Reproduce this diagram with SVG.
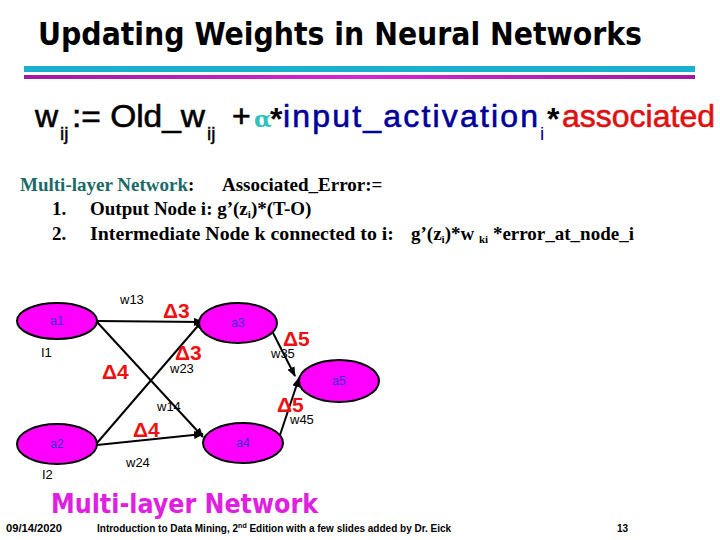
<svg xmlns="http://www.w3.org/2000/svg" width="720" height="540" viewBox="0 0 720 540">
<defs>
<style>
.title{font-family:"DejaVu Sans Condensed","DejaVu Sans",sans-serif;font-weight:bold;}
.ar{font-family:"Liberation Sans",Arial,sans-serif;font-size:32px;}
.sb{font-family:"Liberation Sans",Arial,sans-serif;font-size:19px;}
.tm{font-family:"Liberation Serif","Times New Roman",serif;font-weight:bold;font-size:19px;}
.node ellipse{fill:#ff00ff;stroke:#000;stroke-width:2;}
.node text{font-family:"Liberation Sans",Arial,sans-serif;font-size:12px;fill:#3333cc;text-anchor:middle;}
.lbl{font-family:"Liberation Sans",Arial,sans-serif;font-size:13px;fill:#000;}
.dl{font-family:"Liberation Sans",Arial,sans-serif;font-size:21px;font-weight:bold;fill:#ee1111;}
.edge{stroke:#000;stroke-width:2;fill:none;marker-end:url(#ah);}
.foot{font-family:"Liberation Sans",Arial,sans-serif;font-weight:bold;font-size:10px;fill:#000;}
</style>
<marker id="ah" markerWidth="10" markerHeight="8" refX="9" refY="4" orient="auto" markerUnits="userSpaceOnUse">
<path d="M0,0 L10,4 L0,8 z" fill="#000"/>
</marker>
<linearGradient id="mg" x1="0" x2="1" y1="0" y2="0">
<stop offset="0" stop-color="#a01aa0"/>
<stop offset="0.5" stop-color="#d626d6"/>
<stop offset="1" stop-color="#a01aa0"/>
</linearGradient>
</defs>
<rect width="720" height="540" fill="#fff"/>

<text class="title" x="38" y="45" font-size="32" textLength="604" lengthAdjust="spacingAndGlyphs">Updating Weights in Neural Networks</text>
<rect x="24" y="66" width="671" height="6" fill="#1ab0cf"/>
<rect x="24" y="75" width="671" height="4" fill="url(#mg)"/>

<g id="formula">
<text class="ar" x="35" y="127" stroke="#000" stroke-width="0.6">w</text>
<text class="sb" x="60" y="140" stroke="#000" stroke-width="0.4">ij</text>
<text class="ar" x="72" y="127" textLength="133" lengthAdjust="spacingAndGlyphs" stroke="#000" stroke-width="0.6">:= Old_w</text>
<text class="sb" x="207" y="140" stroke="#000" stroke-width="0.4">ij</text>
<text class="ar" x="232" y="127" stroke="#000" stroke-width="0.6">+</text>
<text x="254" y="127" fill="#2fc0c0" font-family="'DejaVu Serif',serif" font-weight="bold" font-size="23">α</text>
<text class="ar" x="270" y="130" font-weight="bold" font-size="26">*</text>
<text class="ar" x="283" y="127" fill="#00009a" stroke="#00009a" stroke-width="0.6" textLength="255" lengthAdjust="spacing">input_activation</text>
<text class="sb" x="540" y="140" fill="#00009a">i</text>
<text class="ar" x="547" y="130" font-weight="bold" font-size="26">*</text>
<text class="ar" x="562" y="127" fill="#dd1111" stroke="#dd1111" stroke-width="0.6">associated</text>
</g>

<g id="body">
<text class="tm" x="20" y="191"><tspan fill="#1a6b68">Multi-layer Network</tspan>:</text>
<text class="tm" x="222" y="191">Associated_Error:=</text>
<text class="tm" x="52" y="215">1.</text>
<text class="tm" x="90" y="215">Output Node i: g’(z<tspan font-size="11" dy="3">i</tspan><tspan dy="-3">)*(T-O)</tspan></text>
<text class="tm" x="52" y="240">2.</text>
<text class="tm" x="90" y="240" textLength="304" lengthAdjust="spacingAndGlyphs">Intermediate Node k connected to i:</text>
<text class="tm" x="411" y="240">g’(z<tspan font-size="11" dy="3">i</tspan><tspan dy="-3">)*w </tspan><tspan font-size="11" dy="3">ki</tspan><tspan dy="-3"> *error_at_node_i</tspan></text>
</g>

<g id="connectors">
<line class="edge" x1="97" y1="321" x2="203" y2="322"/>
<line class="edge" x1="97" y1="322" x2="203" y2="437"/>
<line class="edge" x1="97" y1="443" x2="203" y2="320"/>
<line class="edge" x1="97" y1="445" x2="203" y2="434"/>
<line class="edge" x1="270" y1="327" x2="295" y2="376"/>
<line class="edge" x1="277" y1="444" x2="299" y2="378"/>
</g>

<g id="a1" class="node"><ellipse cx="57" cy="321" rx="40" ry="18"/><text x="57" y="325">a1</text></g>
<g id="a2" class="node"><ellipse cx="57" cy="444" rx="40" ry="20"/><text x="57" y="448">a2</text></g>
<g id="a3" class="node"><ellipse cx="238" cy="323" rx="39" ry="20"/><text x="238" y="327">a3</text></g>
<g id="a4" class="node"><ellipse cx="243" cy="443" rx="40" ry="20"/><text x="243" y="447">a4</text></g>
<g id="a5" class="node"><ellipse cx="339" cy="381" rx="40" ry="21"/><text x="339" y="385">a5</text></g>

<g id="labels">
<text class="lbl" x="120" y="304">w13</text>
<text class="lbl" x="41" y="357">I1</text>
<text class="lbl" x="170" y="373">w23</text>
<text class="lbl" x="157" y="411">w14</text>
<text class="lbl" x="126" y="467">w24</text>
<text class="lbl" x="42" y="479">I2</text>
<text class="lbl" x="271" y="358">w35</text>
<text class="lbl" x="290" y="424">w45</text>
<text class="dl" x="163" y="318">Δ3</text>
<text class="dl" x="175" y="360">Δ3</text>
<text class="dl" x="102" y="379">Δ4</text>
<text class="dl" x="133" y="437">Δ4</text>
<text class="dl" x="283" y="346">Δ5</text>
<text class="dl" x="277" y="412">Δ5</text>
</g>

<text class="title" x="51" y="513" font-size="27" fill="#e020e0" textLength="267" lengthAdjust="spacingAndGlyphs">Multi-layer Network</text>
<g id="footer">
<text class="foot" x="6" y="532" textLength="56" lengthAdjust="spacingAndGlyphs">09/14/2020</text>
<text class="foot" x="97" y="532">Introduction to Data Mining, 2<tspan font-size="7" dy="-4">nd</tspan><tspan dy="4"> Edition with a few slides added by Dr. Eick</tspan></text>
<text class="foot" x="617" y="532">13</text>
</g>
</svg>
